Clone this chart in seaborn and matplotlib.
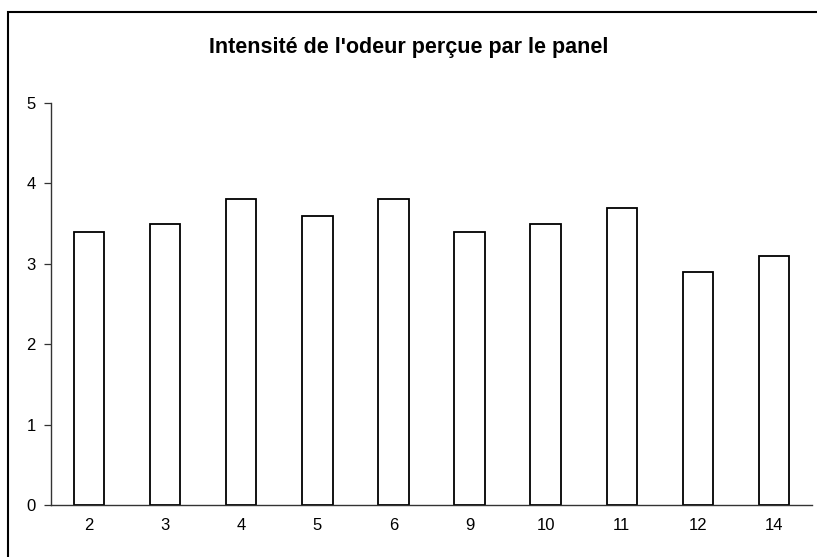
import matplotlib
matplotlib.use("Agg")
import numpy as np
import pandas as pd
import seaborn as sns
from matplotlib import pyplot as plt
from matplotlib.patches import Rectangle

# données
echantillons = ["2", "3", "4", "5", "6", "9", "10", "11", "12", "14"]
intensite = [3.4, 3.5, 3.8, 3.6, 3.8, 3.4, 3.5, 3.7, 2.9, 3.1]
titre = "Intensité de l'odeur perçue par le panel"

df = pd.DataFrame({"echantillon": echantillons, "intensite": intensite})

sns.set_theme(style="white")
plt.rcParams["font.family"] = ["Liberation Sans", "DejaVu Sans"]

fig = plt.figure(figsize=(8.17, 5.57), dpi=100)
ax = fig.add_axes([51 / 817, 1 - 505 / 557, (812 - 51) / 817, (505 - 103) / 557])

sns.barplot(data=df, x="echantillon", y="intensite", color="white",
            edgecolor="black", linewidth=1.3, width=0.4, ax=ax)

ax.set_xlim(-0.5, len(echantillons) - 0.5)
ax.set_ylim(0, 5)
ax.set_yticks([0, 1, 2, 3, 4, 5])
ax.set_xlabel("")
ax.set_ylabel("")

# graduations entre les catégories (style Excel)
ax.set_xticks(np.arange(-0.5, len(echantillons), 1.0), minor=True)
ax.tick_params(axis="x", which="major", length=0, pad=9, labelsize=12,
               labelcolor="black")
ax.tick_params(axis="x", which="minor", length=5, width=0.9, color="#333333", direction="out")
ax.tick_params(axis="y", length=5, width=0.9, color="#333333", pad=6, labelsize=12,
               left=True, labelcolor="black")

for s in ["top", "right"]:
    ax.spines[s].set_visible(False)
for s in ["left", "bottom"]:
    ax.spines[s].set_color("#333333")
    ax.spines[s].set_linewidth(1.0)

fig.text(0.5, 1 - 48 / 557, titre, ha="center", va="center",
         fontsize=15.5, fontweight="bold", color="black")

# cadre extérieur
fig.patches.append(Rectangle((8 / 817, -0.1), 1.2, 1 - 12 / 557 + 0.1,
                             transform=fig.transFigure, fill=False,
                             edgecolor="black", linewidth=1.5))

plt.savefig("out.png", dpi=100)
